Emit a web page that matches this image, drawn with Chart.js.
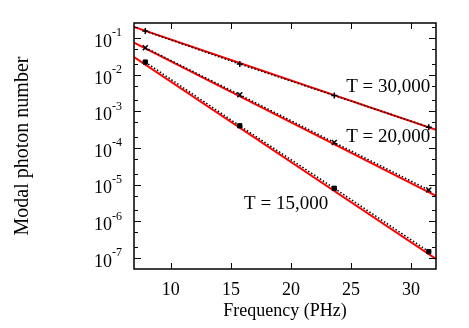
<!DOCTYPE html>
<html>
<head>
<meta charset="utf-8">
<script src="https://cdn.jsdelivr.net/npm/chart.js@4"></script>
<style>
  html, body { margin: 0; padding: 0; background: #fff; }
  #wrap { width: 469px; height: 328px; position: relative; }
</style>
</head>
<body>
<div id="wrap"><canvas id="chart"></canvas></div>
<script>
// harmonic frequencies (PHz) where the simulated points sit
const freq = [7.87, 15.74, 23.61, 31.48];

// simulated modal photon numbers
const simT30000 = [0.157, 0.0197, 0.00273, 0.000373];
const simT20000 = [0.055, 0.00285, 0.000142, 0.0000072];
const simT15000 = [0.0223, 0.000406, 0.000008, 0.000000149];

// fitted (red) lines, evaluated at the ends of the frequency axis
const fitFreq = [6.93, 32.08];
const fitT30000 = [0.203, 0.000316];
const fitT20000 = [0.0753, 0.00000494];
const fitT15000 = [0.0306, 0.000000094];

// axes
const xTicks = [10, 15, 20, 25, 30];
const yDecades = [1e-7, 1e-6, 1e-5, 1e-4, 1e-3, 1e-2, 1e-1];
const yMinorFactors = [2, 5];

// curve labels
const curveLabels = ['T = 30,000', 'T = 20,000', 'T = 15,000'];
const curveLabelX = [28.1, 28.1, 19.6];
const curveLabelY = [0.00472, 0.000199, 0.00000299];

const FONT = '"Liberation Serif", "Times New Roman", serif';

const toPts = (xs, ys) => xs.map((x, i) => ({ x: x, y: ys[i] }));

// inner ticks on all four sides, the frame, the y labels with real superscripts, curve labels
const frameTicks = {
  id: 'frameTicks',
  afterDatasetsDraw(chart) {
    const { ctx, chartArea: a, scales: { x, y } } = chart;
    ctx.save();
    ctx.strokeStyle = '#000';
    ctx.lineWidth = 1;
    ctx.beginPath();
    xTicks.forEach(v => {
      const px = Math.round(x.getPixelForValue(v)) + 0.5;
      ctx.moveTo(px, a.bottom); ctx.lineTo(px, a.bottom - 6);
      ctx.moveTo(px, a.top); ctx.lineTo(px, a.top + 6);
    });
    yDecades.forEach(d => {
      const py = Math.round(y.getPixelForValue(d)) + 0.5;
      ctx.moveTo(a.left, py); ctx.lineTo(a.left + 7, py);
      ctx.moveTo(a.right, py); ctx.lineTo(a.right - 7, py);
      yMinorFactors.forEach(f => {
        const v = d * f;
        if (v > y.max) return;
        const pm = Math.round(y.getPixelForValue(v)) + 0.5;
        ctx.moveTo(a.left, pm); ctx.lineTo(a.left + 4, pm);
        ctx.moveTo(a.right, pm); ctx.lineTo(a.right - 4, pm);
      });
    });
    ctx.stroke();
    ctx.lineWidth = 1.5;
    ctx.strokeRect(a.left, a.top, a.right - a.left, a.bottom - a.top);

    ctx.fillStyle = '#000';
    ctx.textBaseline = 'middle';
    // y tick labels: 10 with a raised exponent
    yDecades.forEach(d => {
      const py = y.getPixelForValue(d);
      const exp = String(Math.round(Math.log10(d)));
      ctx.font = '12px ' + FONT;
      const ew = ctx.measureText(exp).width;
      const right = a.left - 12;
      ctx.textAlign = 'left';
      ctx.fillText(exp, right - ew, py - 5);
      ctx.font = '18px ' + FONT;
      ctx.textAlign = 'right';
      ctx.fillText('10', right - ew, py + 4);
    });

    ctx.font = '19px ' + FONT;
    ctx.textAlign = 'center';
    curveLabels.forEach((t, i) => {
      ctx.fillText(t, x.getPixelForValue(curveLabelX[i]), y.getPixelForValue(curveLabelY[i]));
    });
    ctx.restore();
  }
};

const ctx = document.getElementById('chart').getContext('2d');
new Chart(ctx, {
  type: 'scatter',
  data: {
    datasets: [
      { label: 'sim 30000', data: toPts(freq, simT30000), showLine: true,
        borderColor: '#000', borderWidth: 1.5, borderDash: [1.5, 2],
        pointStyle: 'cross', pointRadius: 3, pointBorderWidth: 1.5,
        pointBackgroundColor: '#000', pointBorderColor: '#000' },
      { label: 'sim 20000', data: toPts(freq, simT20000), showLine: true,
        borderColor: '#000', borderWidth: 1.5, borderDash: [1.5, 2],
        pointStyle: 'crossRot', pointRadius: 3.5, pointBorderWidth: 1.5,
        pointBackgroundColor: '#000', pointBorderColor: '#000' },
      { label: 'sim 15000', data: toPts(freq, simT15000), showLine: true,
        borderColor: '#000', borderWidth: 1.5, borderDash: [1.5, 2],
        pointStyle: 'rect', pointRadius: 3, pointBorderWidth: 1,
        pointBackgroundColor: '#000', pointBorderColor: '#000' },
      { label: 'fit 30000', data: toPts(fitFreq, fitT30000), showLine: true,
        borderColor: '#ff0000', borderWidth: 2, pointRadius: 0 },
      { label: 'fit 20000', data: toPts(fitFreq, fitT20000), showLine: true,
        borderColor: '#ff0000', borderWidth: 2, pointRadius: 0 },
      { label: 'fit 15000', data: toPts(fitFreq, fitT15000), showLine: true,
        borderColor: '#ff0000', borderWidth: 2, pointRadius: 0 }
    ]
  },
  options: {
    responsive: true,
    maintainAspectRatio: false,
    animation: false,
    layout: { padding: { top: 23, right: 33, left: 0, bottom: 0 } },
    plugins: {
      legend: { display: false },
      tooltip: { enabled: false }
    },
    scales: {
      x: {
        type: 'linear',
        min: fitFreq[0],
        max: fitFreq[1],
        afterBuildTicks: scale => { scale.ticks = xTicks.map(v => ({ value: v })); },
        afterFit: scale => { scale.height = 59; },
        grid: { display: false, drawTicks: false },
        border: { display: false },
        ticks: { color: '#000', padding: 10, font: { family: FONT, size: 18 } },
        title: { display: true, text: 'Frequency (PHz)', color: '#000',
          padding: { top: 0, bottom: 6 }, font: { family: FONT, size: 18 } }
      },
      y: {
        type: 'logarithmic',
        min: 5e-8,
        max: 0.26,
        afterBuildTicks: scale => { scale.ticks = yDecades.map(v => ({ value: v })); },
        afterFit: scale => { scale.width = 134; },
        grid: { display: false, drawTicks: false },
        border: { display: false },
        ticks: { display: false },
        title: { display: true, text: 'Modal photon number', color: '#000',
          padding: { top: 11, bottom: 0 }, font: { family: FONT, size: 20 } }
      }
    }
  },
  plugins: [frameTicks]
});
</script>
</body>
</html>
